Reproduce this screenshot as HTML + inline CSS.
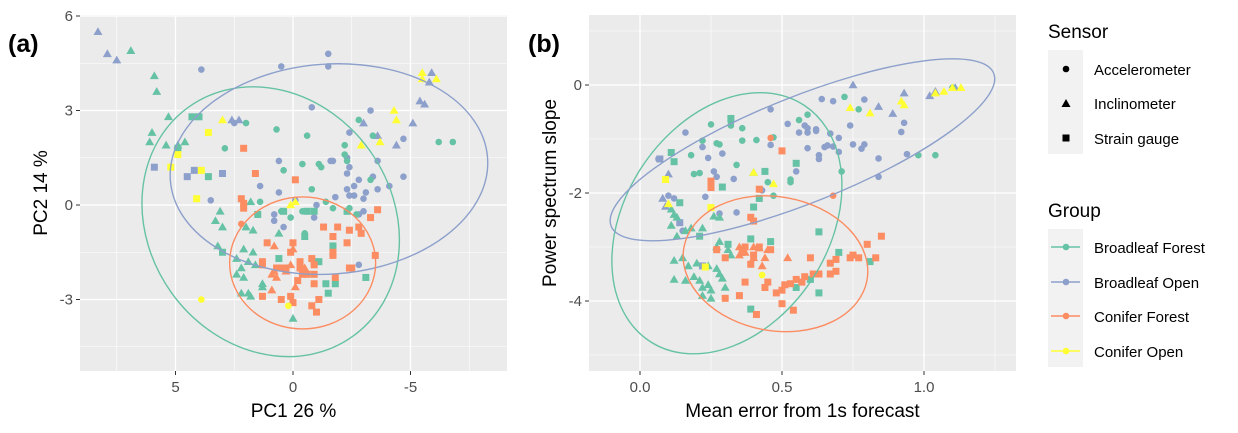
<!DOCTYPE html>
<html><head><meta charset="utf-8"><style>
html,body{margin:0;padding:0;background:#fff;width:1238px;height:433px;overflow:hidden}
svg text{font-family:"Liberation Sans",Arial,sans-serif}
</style></head><body>
<svg id="chart" width="1238" height="433" viewBox="0 0 1238 433" xmlns="http://www.w3.org/2000/svg">
<text x="8" y="52" font-size="25" font-weight="bold" fill="#000">(a)</text>
<text x="528" y="52" font-size="25" font-weight="bold" fill="#000">(b)</text>
<g id="pa"></g>
<g id="pb"></g>
<g id="legend">
<text x="1048" y="38" font-size="19" fill="#000">Sensor</text>
<rect x="1048" y="50" width="35" height="104" fill="#f2f2f2"/>
<circle cx="1066" cy="69" r="3.3" fill="#000"/>
<polygon points="1066,99 1070.5,107 1061.5,107" fill="#000"/>
<rect x="1062.5" y="134.5" width="7" height="7" fill="#000"/>
<text x="1094" y="75" font-size="15" fill="#000">Accelerometer</text>
<text x="1094" y="109" font-size="15" fill="#000">Inclinometer</text>
<text x="1094" y="144" font-size="15" fill="#000">Strain gauge</text>
<text x="1048" y="217" font-size="19" fill="#000">Group</text>
<rect x="1048" y="229" width="35" height="138" fill="#f2f2f2"/>
<g><line x1="1051" x2="1080" y1="247" y2="247" stroke="#66c2a5" stroke-width="1.5"/><circle cx="1066" cy="247" r="3.3" fill="#66c2a5"/><text x="1094" y="253" font-size="15">Broadleaf Forest</text></g>
<g><line x1="1051" x2="1080" y1="282" y2="282" stroke="#8da0cb" stroke-width="1.5"/><circle cx="1066" cy="282" r="3.3" fill="#8da0cb"/><text x="1094" y="288" font-size="15">Broadleaf Open</text></g>
<g><line x1="1051" x2="1080" y1="316" y2="316" stroke="#fc8d62" stroke-width="1.5"/><circle cx="1066" cy="316" r="3.3" fill="#fc8d62"/><text x="1094" y="322" font-size="15">Conifer Forest</text></g>
<g><line x1="1051" x2="1080" y1="351" y2="351" stroke="#ffff33" stroke-width="1.5"/><circle cx="1066" cy="351" r="3.3" fill="#ffff33"/><text x="1094" y="357" font-size="15">Conifer Open</text></g>
</g>
</svg>
<script>
// ---------- data: panel (a) PCA ----------
const groups = ["Broadleaf Forest","Broadleaf Open","Conifer Forest","Conifer Open"];
const groupColors = ["#66c2a5","#8da0cb","#fc8d62","#ffff33"];
const aXTicks = [5,0,-5];
const aYTicks = [6,3,0,-3];
const a_bf_circ = [[2.0,2.6],[0.7,2.4],[-0.6,2.2],[2.9,1.8],[-0.4,1.3],[-1.1,1.3],[-1.2,1.2],[0.4,1.1],[-2.2,1.9],[-2.2,1.6],[-2.3,1.4],[-3.4,2.2],[-2.8,2.7],[-6.2,2.0],[-6.8,2.0],[-0.8,0.5],[1.4,0.1],[-1.4,0.1],[-1.7,-0.1],[-2.4,-0.1],[0.5,-0.2],[-0.4,-0.2],[0.1,-0.4],[-0.5,-0.9],[-3.3,0.8],[-2.7,-0.3]];
const a_bf_tri = [[6.9,4.9],[5.9,4.1],[5.8,3.6],[5.3,2.8],[6.0,2.3],[6.1,2.0],[5.4,1.9],[4.6,2.0],[4.9,1.9],[3.1,-0.2],[3.3,-0.5],[3.0,-0.7],[1.8,0.1],[2.0,-0.7],[1.7,-0.8],[0.6,-0.9],[3.2,-1.3],[2.1,-1.4],[1.7,-1.5],[2.4,-1.7],[1.9,-1.8],[1.6,-1.9],[2.2,-2.0],[2.4,-2.2],[2.1,-2.3],[1.3,-2.5],[1.3,-2.6],[2.2,-2.8],[1.9,-2.8],[1.8,-2.9],[0,-3.6]];
const a_bf_sq = [[4.3,2.8],[4.0,2.8],[4.9,1.8],[3.6,0.9],[1.5,-0.3],[0.4,-0.2],[-0.6,-0.2],[-0.9,-0.2],[-2.3,-0.2],[-0.5,-1.0],[-1.7,-1.3],[3.0,-1.5],[0.6,-1.7],[-0.9,-1.8],[-1.1,-1.8],[-3.1,-2.3],[-1.4,-2.5],[-1.8,-2.5],[-1.5,-2.8]];
const a_bo_circ = [[3.9,4.3],[0.5,4.4],[-1.5,4.8],[-1.5,4.4],[-0.8,3.1],[-3.3,3.0],[2.5,2.6],[-2.4,2.3],[-4.7,2.1],[0.6,1.4],[-1.7,1.4],[-1.6,1.4],[-2.3,1.5],[-2.4,1.2],[-3.6,1.4],[-4.7,0.9],[-2.3,1.0],[-2.8,0.8],[-3.4,0.9],[-2.6,0.6],[1.4,0.6],[0.6,0.4],[-2.3,0.5],[-2.6,0.3],[-3.1,0.4],[-3.6,0.5],[-4.1,0.6],[-3.0,0.2],[3.5,0.15],[-1.8,0.25],[-2.4,0.3],[-3.0,-0.2],[-1.0,0],[-0.1,0.15],[0.8,-0.3],[0.8,-0.5],[0.4,-0.7],[-0.9,-0.4],[-2.8,-0.3],[-2.8,-1.9]];
const a_bo_tri = [[8.3,5.5],[7.9,4.8],[7.5,4.6],[-5.9,4.2],[-5.8,3.9],[-5.4,3.3],[-5.6,3.2],[-5.1,2.6],[-3.0,2.6],[-3.6,2.2],[-4.4,1.9],[2.6,2.7],[2.3,2.7]];
const a_bo_sq = [[5.9,1.2],[4.5,0.9],[4.2,1.1],[3.0,1.0]];
const a_cf_circ = [[2.2,-0.6]];
const a_cf_tri = [[0.8,-2.1],[0.9,-2.2],[0.3,-2.1],[-0.4,-2.0],[-0.5,-2.0],[0,-1.4],[0.8,-1.3],[0.7,-2.3],[0.9,-2.7],[0.1,-1.9],[-0.1,-2.6]];
const a_cf_sq = [[2.1,1.8],[1.6,1.0],[-0.1,0.8],[2.2,0.2],[2.1,0.05],[2.1,-0.1],[-3.6,-0.15],[-3.3,-0.4],[-1.3,-0.7],[-1.9,-0.7],[-2.8,-0.7],[-2.4,-0.8],[-1.7,-1.0],[-2.9,-0.9],[-2.3,-1.2],[1.1,-1.2],[0,-1.2],[0.1,-1.5],[-1.7,-1.5],[-1.7,-1.6],[-3.5,-1.6],[1.3,-1.8],[-0.3,-1.8],[-0.8,-1.7],[-0.9,-1.9],[1.3,-1.9],[-2.4,-2.0],[-2.5,-2.0],[0.5,-2.0],[-0.4,-2.2],[-0.6,-2.2],[-0.9,-2.2],[-0.2,-2.4],[-0.9,-2.5],[-1.8,-2.3],[1.3,-2.9],[0.5,-3.0],[0,-3.1],[0.1,-2.9],[-0.8,-3.2],[-1.1,-3.0],[-1.0,-3.4],[0.4,-2.0],[0.7,-2.0],[0.3,-2.0],[-0.3,-2.0]];
const a_co_circ = [[3.9,-3.0],[0.2,-3.2]];
const a_co_tri = [[-5.5,4.2],[-5.5,4.0],[-6.1,4.0],[-4.3,3.0],[-4.4,2.7],[-3.7,2.0],[-2.9,1.9],[0.1,0],[-0.1,0.1],[3.0,2.7]];
const a_co_sq = [[3.6,2.3],[4.9,1.6],[5.2,1.2],[3.9,1.1],[4.1,0.2]];
// ellipse centers (data units)
const aEllipseCenters = [[0.95,-0.53],[-1.53,1.14],[-0.41,-1.84]];

// ---------- data: panel (b) ----------
const bXTicks = [0.0,0.5,1.0];
const bXTickLabels = ["0.0","0.5","1.0"];
const bYTicks = [0,-2,-4];
const b_bf_circ = [[0.25,-0.73],[0.22,-1.03],[0.18,-1.3],[0.19,-1.65],[0.21,-1.63],[0.27,-1.08],[0.28,-1.1],[0.32,-0.7],[0.32,-0.75],[0.36,-0.8],[0.36,-1.03],[0.41,-1.02],[0.47,-0.97],[0.34,-1.48],[0.45,-1.8],[0.47,-2.05],[0.53,-1.75],[0.53,-1.8],[0.56,-0.65],[0.59,-0.55],[0.72,-0.22],[0.77,-0.45],[0.71,-1.6],[0.98,-1.3],[1.04,-1.3],[1.1,-0.05],[0.39,-2.46]];
const b_bf_tri = [[0.11,-2.3],[0.12,-2.4],[0.13,-2.45],[0.11,-2.6],[0.13,-2.8],[0.16,-2.7],[0.18,-2.65],[0.22,-2.65],[0.26,-2.43],[0.28,-2.45],[0.27,-3.0],[0.28,-2.9],[0.31,-3.05],[0.12,-3.25],[0.15,-3.2],[0.17,-3.35],[0.2,-3.3],[0.12,-3.6],[0.16,-3.62],[0.19,-3.55],[0.21,-3.62],[0.24,-3.35],[0.27,-3.4],[0.28,-3.5],[0.24,-3.7],[0.25,-3.8],[0.22,-3.9],[0.25,-3.95],[0.3,-3.75],[0.22,-3.75],[0.4,-1.62],[0.32,-3.15],[0.29,-3.58]];
const b_bf_sq = [[0.32,-0.62],[0.11,-1.25],[0.12,-1.42],[0.14,-2.18],[0.21,-2.8],[0.29,-1.89],[0.44,-1.6],[0.55,-1.45],[0.42,-2.1],[0.4,-2.26],[0.39,-2.85],[0.46,-2.9],[0.31,-2.95],[0.63,-2.72],[0.7,-3.1],[0.81,-3.27],[0.6,-3.6],[0.55,-3.75],[0.63,-3.85],[0.39,-4.15]];
const b_bo_circ = [[0.065,-1.37],[0.16,-0.88],[0.22,-1.15],[0.24,-1.35],[0.26,-1.6],[0.27,-1.7],[0.29,-1.27],[0.33,-1.74],[0.23,-2.07],[0.28,-2.38],[0.34,-2.36],[0.15,-2.7],[0.46,-0.45],[0.46,-1.11],[0.52,-0.72],[0.56,-0.88],[0.58,-0.75],[0.59,-0.8],[0.59,-0.88],[0.62,-0.82],[0.62,-0.85],[0.64,-0.26],[0.68,-0.3],[0.67,-0.9],[0.70,-0.98],[0.59,-1.17],[0.63,-1.3],[0.63,-1.37],[0.65,-1.15],[0.66,-1.12],[0.68,-1.14],[0.7,-1.24],[0.74,-0.75],[0.75,-1.1],[0.78,-1.18],[0.79,-1.1],[0.79,-0.27],[0.84,-1.36],[0.84,-1.7],[0.92,-0.87],[0.93,-0.7],[0.94,-1.28],[0.55,-1.6],[0.43,-1.95],[0.1,-2.05],[0.12,-2.1]];
const b_bo_tri = [[0.75,0.0],[0.84,-0.4],[0.89,-0.53],[0.93,-0.15],[1.02,-0.2],[1.04,-0.12],[1.11,-0.05],[0.1,-1.65],[0.08,-2.1],[0.09,-2.25]];
const b_bo_sq = [[0.07,-1.37],[0.14,-2.55],[0.22,-3.35]];
const b_cf_circ = [[0.46,-0.98],[0.68,-2.05]];
const b_cf_tri = [[0.35,-3.0],[0.37,-3.1],[0.4,-3.0],[0.42,-3.02],[0.45,-3.05],[0.44,-3.2],[0.4,-3.2],[0.43,-3.35],[0.52,-3.2],[0.35,-3.15]];
const b_cf_sq = [[0.5,-1.22],[0.25,-1.78],[0.25,-1.9],[0.42,-1.93],[0.39,-2.45],[0.4,-2.52],[0.27,-3.05],[0.3,-3.2],[0.36,-3.1],[0.4,-3.15],[0.37,-3.0],[0.42,-3.0],[0.46,-3.05],[0.39,-3.32],[0.37,-3.65],[0.35,-3.9],[0.44,-3.75],[0.45,-3.65],[0.48,-3.85],[0.5,-3.8],[0.5,-4.05],[0.51,-3.7],[0.53,-3.68],[0.55,-3.6],[0.57,-3.65],[0.58,-3.55],[0.61,-3.5],[0.63,-3.5],[0.6,-3.2],[0.67,-3.5],[0.67,-3.3],[0.69,-3.45],[0.69,-3.23],[0.74,-3.2],[0.75,-3.15],[0.77,-3.2],[0.8,-2.95],[0.83,-3.2],[0.85,-2.8],[0.54,-4.17],[0.41,-4.25],[0.3,-3.95]];
const b_co_circ = [[0.43,-3.52]];
const b_co_tri = [[0.74,-0.42],[0.81,-0.52],[0.92,-0.3],[0.93,-0.37],[1.04,-0.15],[1.07,-0.12],[1.13,-0.05],[1.1,-0.05],[0.4,-1.62],[0.47,-1.83],[0.1,-2.2]];
const b_co_sq = [[0.09,-1.75],[0.25,-2.27],[0.23,-3.37]];
const bEllipseCenters = [[0.306,-2.56],[0.572,-1.2],[0.477,-3.31]];

const NS = "http://www.w3.org/2000/svg";
function mk(tag, attrs, parent){
  const e = document.createElementNS(NS, tag);
  for (const k in attrs) e.setAttribute(k, attrs[k]);
  parent.appendChild(e);
  return e;
}

function drawPanel(g, cfg){
  const {L,R,T,B,sx,sy} = cfg;
  const bg = mk('rect',{x:L,y:T,width:R-L,height:B-T,fill:'#ebebeb'},g);
  
  
  cfg.minorX.forEach(v=>{ const l=mk('line',{x1:sx(v),x2:sx(v),y1:T,y2:B,stroke:'#fff','stroke-width':0.6},g);
    
     });
  cfg.minorY.forEach(v=>{ const l=mk('line',{x1:L,x2:R,y1:sy(v),y2:sy(v),stroke:'#fff','stroke-width':0.6},g);
    
     });
  cfg.xTicks.forEach((v,i)=>{
    const l=mk('line',{x1:sx(v),x2:sx(v),y1:T,y2:B,stroke:'#fff','stroke-width':1.3},g);
    
    
    mk('line',{x1:sx(v),x2:sx(v),y1:B,y2:B+4,stroke:'#333','stroke-width':1},g);
    const t=mk('text',{x:sx(v),y:B+21,'font-size':15,fill:'#4d4d4d','text-anchor':'middle'},g);
    t.textContent = cfg.xLabels[i];
    
    
  });
  cfg.yTicks.forEach((v,i)=>{
    const l=mk('line',{x1:L,x2:R,y1:sy(v),y2:sy(v),stroke:'#fff','stroke-width':1.3},g);
    
    
    mk('line',{x1:L-4,x2:L,y1:sy(v),y2:sy(v),stroke:'#333','stroke-width':1},g);
    const t=mk('text',{x:L-7,y:sy(v)+5,'font-size':15,fill:'#4d4d4d','text-anchor':'end'},g);
    t.textContent = cfg.yLabels[i];
    
    
  });
  const xt=mk('text',{x:(L+R)/2,y:B+46,'font-size':19,fill:'#000','text-anchor':'middle'},g);
  xt.textContent = cfg.xTitle;
  
  
  const yt=mk('text',{x:0,y:0,'font-size':19,fill:'#000','text-anchor':'middle',transform:`translate(${cfg.yTitleX},${(T+B)/2}) rotate(-90)`},g);
  yt.textContent = cfg.yTitle;
  
  
  // points
  cfg.series.forEach(s=>{
    const col = groupColors[s.group];
    s.data.forEach(p=>{
      const x=sx(p[0]), y=sy(p[1]);
      let e;
      if (s.shape==='circ') e=mk('circle',{cx:x,cy:y,r:3.3,fill:col},g);
      else if (s.shape==='tri') e=mk('polygon',{points:`${x},${y-4.5} ${x+4.5},${y+3.3} ${x-4.5},${y+3.3}`,fill:col},g);
      else e=mk('rect',{x:x-3.5,y:y-3.5,width:7,height:7,fill:col},g);
      
      
    });
  });
  // ellipses
  cfg.ellipses.forEach((el,i)=>{
    const c = cfg.ellCenters[i];
    const cx=sx(c[0]), cy=sy(c[1]);
    const e=mk('ellipse',{cx:cx,cy:cy,rx:el.a,ry:el.b,fill:'none',stroke:groupColors[el.group],'stroke-width':1.4,transform:`rotate(${el.rot} ${cx} ${cy})`},g);
    
    
  });
}

// Panel a
drawPanel(document.getElementById('pa'),{
  id:'panel-a', L:80,R:507,T:15,B:371,
  sx:v=>293-v*23.5, sy:v=>205-v*31.5,
  xTicks:aXTicks, xLabels:aXTicks.map(String), yTicks:aYTicks, yLabels:aYTicks.map(String),
  minorX:[7.5,2.5,-2.5,-7.5], minorY:[4.5,1.5,-1.5,-4.5],
  xTitle:'PC1 26 %', yTitle:'PC2 14 %', yTitleX:47,
  series:[
    {group:1,shape:'circ',data:a_bo_circ},{group:1,shape:'tri',data:a_bo_tri},{group:1,shape:'sq',data:a_bo_sq},
    {group:0,shape:'circ',data:a_bf_circ},{group:0,shape:'tri',data:a_bf_tri},{group:0,shape:'sq',data:a_bf_sq},
    {group:2,shape:'circ',data:a_cf_circ},{group:2,shape:'tri',data:a_cf_tri},{group:2,shape:'sq',data:a_cf_sq},
    {group:3,shape:'circ',data:a_co_circ},{group:3,shape:'tri',data:a_co_tri},{group:3,shape:'sq',data:a_co_sq}
  ],
  ellCenters:aEllipseCenters,
  ellipses:[{group:0,a:141,b:122,rot:54.5},{group:1,a:159,b:105,rot:-4},{group:2,a:73,b:66,rot:0}]
});
// Panel b
drawPanel(document.getElementById('pb'),{
  id:'panel-b', L:589,R:1016,T:15,B:371,
  sx:v=>640+v*284, sy:v=>85-v*54,
  xTicks:bXTicks, xLabels:bXTickLabels, yTicks:bYTicks, yLabels:bYTicks.map(String),
  minorX:[-0.25,0.25,0.75,1.25], minorY:[1,-1,-3,-5],
  xTitle:'Mean error from 1s forecast', yTitle:'Power spectrum slope', yTitleX:556,
  series:[
    {group:1,shape:'circ',data:b_bo_circ},{group:1,shape:'tri',data:b_bo_tri},{group:1,shape:'sq',data:b_bo_sq},
    {group:0,shape:'circ',data:b_bf_circ},{group:0,shape:'tri',data:b_bf_tri},{group:0,shape:'sq',data:b_bf_sq},
    {group:2,shape:'circ',data:b_cf_circ},{group:2,shape:'tri',data:b_cf_tri},{group:2,shape:'sq',data:b_cf_sq},
    {group:3,shape:'circ',data:b_co_circ},{group:3,shape:'tri',data:b_co_tri},{group:3,shape:'sq',data:b_co_sq}
  ],
  ellCenters:bEllipseCenters,
  ellipses:[{group:0,a:141,b:102,rot:-56.9},{group:1,a:206,b:53,rot:-21.8},{group:2,a:93,b:67,rot:10}]
});
</script>
</body></html>
